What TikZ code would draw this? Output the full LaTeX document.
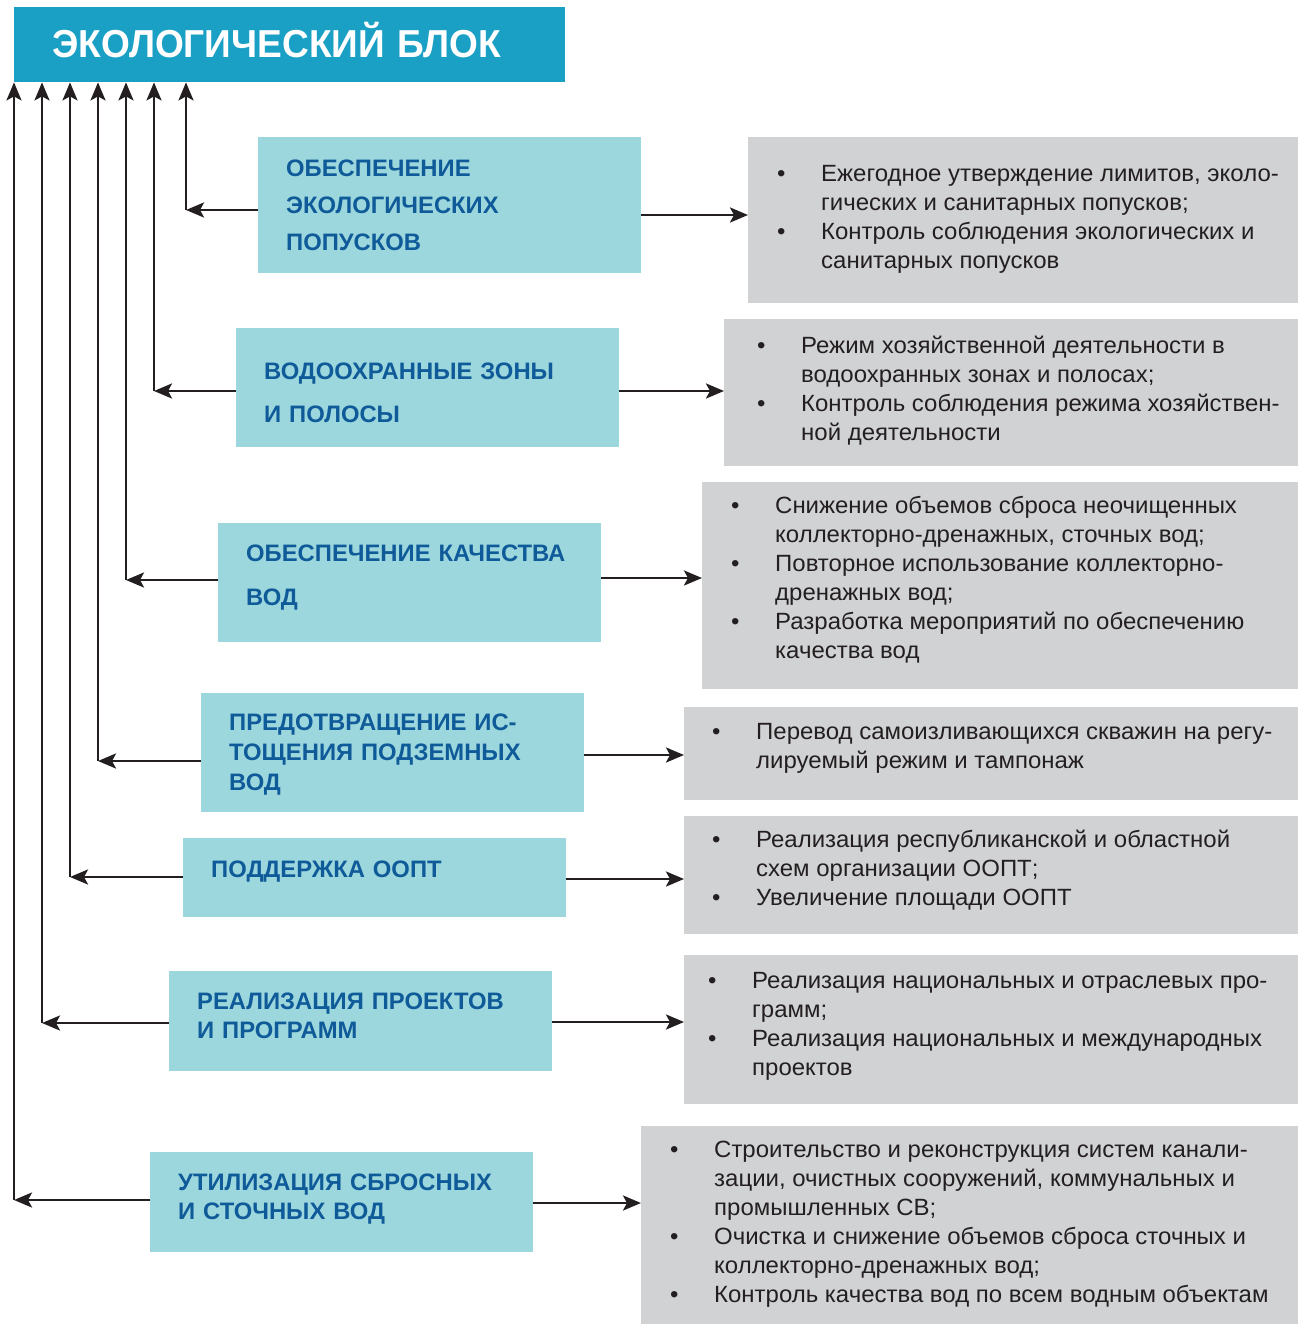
\documentclass[tikz,border=0pt]{standalone}
\usepackage{fontspec}
\setmainfont{Liberation Sans}
\newfontfamily\titlefont[FakeStretch=0.95]{Liberation Sans Bold}
\newfontfamily\bodyfont[FakeStretch=1.02]{Liberation Sans}
\usetikzlibrary{positioning,arrows.meta}
\definecolor{titleblue}{HTML}{1BA0C5}
\definecolor{boxblue}{HTML}{9CD7DD}
\definecolor{headblue}{HTML}{0F5A98}
\definecolor{boxgray}{HTML}{D1D2D4}
\definecolor{textgray}{HTML}{231F20}
% one bullet point with hanging indent
\newcommand{\bitem}[1]{\par\hangindent=44pt\hangafter=1\noindent\hbox to 44pt{\textbullet\hfil}\strut#1}
% width, height, top space, left space, items
\newcommand{\mlist}[5]{\begin{minipage}[c][#2pt][t]{#1pt}\raggedright\leftskip=#4pt\vspace*{#3pt}#5\end{minipage}}

\begin{document}
\begin{tikzpicture}[x=1pt,y=-1pt,
  head/.style={fill=titleblue,text=white,anchor=north west,
    font=\titlefont\fontsize{39}{39}\selectfont,
    inner xsep=38pt,inner ysep=0pt,minimum width=551pt,minimum height=75pt,
    text width=475pt,align=left,text depth=10pt},
  task/.style={fill=boxblue,text=headblue,anchor=north west,
    font=\fontsize{23.8}{37}\selectfont\bfseries,
    inner xsep=28pt,inner ysep=0pt,minimum width=383pt,
    text width=327pt,align=left},
  measure/.style={fill=boxgray,text=textgray,anchor=north west,inner sep=0pt,
    font=\bodyfont\fontsize{23.5}{29}\selectfont},
  arr/.style={draw=textgray,line width=2.7pt,
    -{Stealth[length=18pt,width=15pt,inset=4pt]}}]
\useasboundingbox (0,0) rectangle (1298,1324);

\node[head] (title) at (14,7) {ЭКОЛОГИЧЕСКИЙ БЛОК};

% directions
\node[task,minimum height=136pt] (p1) at (258,137) {ОБЕСПЕЧЕНИЕ\\ЭКОЛОГИЧЕСКИХ\\ПОПУСКОВ};
\node[task,minimum height=119pt,font=\fontsize{23.8}{43}\selectfont\bfseries] (p2) at (236,328) {\rule{0pt}{27pt}ВОДООХРАННЫЕ ЗОНЫ\\И ПОЛОСЫ};
\node[task,minimum height=119pt,font=\fontsize{23.8}{44}\selectfont\bfseries] (p3) at (218,523) {ОБЕСПЕЧЕНИЕ КАЧЕСТВА\\ВОД\rule[-14.6pt]{0pt}{0pt}};
\node[task,minimum height=119pt,font=\fontsize{23.8}{30}\selectfont\bfseries] (p4) at (201,693) {\rule{0pt}{21pt}ПРЕДОТВРАЩЕНИЕ ИС-\\ТОЩЕНИЯ ПОДЗЕМНЫХ\\ВОД};
\node[task,minimum height=79pt] (p5) at (183,838) {ПОДДЕРЖКА ООПТ\rule[-16.6pt]{0pt}{0pt}};
\node[task,minimum height=100pt,font=\fontsize{23.8}{29}\selectfont\bfseries] (p6) at (169,971) {РЕАЛИЗАЦИЯ ПРОЕКТОВ\\И ПРОГРАММ\rule[-12pt]{0pt}{0pt}};
\node[task,minimum height=100pt,font=\fontsize{23.8}{29}\selectfont\bfseries] (p7) at (150,1152) {УТИЛИЗАЦИЯ СБРОСНЫХ\\И СТОЧНЫХ ВОД\rule[-10.6pt]{0pt}{0pt}};

% measures
\node[measure] (m1) at (748,137) {\mlist{550}{166}{24}{29}{%
  \bitem{Ежегодное утверждение лимитов, эколо-\newline гических и санитарных попусков;}
  \bitem{Контроль соблюдения экологических и\newline санитарных попусков}}};
\node[measure] (m2) at (724,319) {\mlist{574}{147}{14}{33}{%
  \bitem{Режим хозяйственной деятельности в\newline водоохранных зонах и полосах;}
  \bitem{Контроль соблюдения режима хозяйствен-\newline ной деятельности}}};
\node[measure] (m3) at (702,482) {\mlist{596}{207}{11}{29}{%
  \bitem{Снижение объемов сброса неочищенных\newline коллекторно-дренажных, сточных вод;}
  \bitem{Повторное использование коллекторно-\newline дренажных вод;}
  \bitem{Разработка мероприятий по обеспечению\newline качества вод}}};
\node[measure] (m4) at (684,707) {\mlist{614}{93}{12}{28}{%
  \bitem{Перевод самоизливающихся скважин на регу-\newline лируемый режим и тампонаж}}};
\node[measure] (m5) at (684,816) {\mlist{614}{118}{11}{28}{%
  \bitem{Реализация республиканской и областной\newline схем организации ООПТ;}
  \bitem{Увеличение площади ООПТ}}};
\node[measure] (m6) at (684,955) {\mlist{614}{149}{13}{24}{%
  \bitem{Реализация национальных и отраслевых про-\newline грамм;}
  \bitem{Реализация национальных и международных\newline проектов}}};
\node[measure] (m7) at (641,1126) {\mlist{657}{198}{11}{29}{%
  \bitem{Строительство и реконструкция систем канали-\newline зации, очистных сооружений, коммунальных и\newline промышленных СВ;}
  \bitem{Очистка и снижение объемов сброса сточных и\newline коллекторно-дренажных вод;}
  \bitem{Контроль качества вод по всем водным объектам}}};

% corners of the feedback lines
\coordinate (c1) at (186,210);
\coordinate (c2) at (154,391);
\coordinate (c3) at (126,580);
\coordinate (c4) at (98,761);
\coordinate (c5) at (70,877);
\coordinate (c6) at (42,1023);
\coordinate (c7) at (14,1200);
% rows of the right arrows
\coordinate (r1) at (0,215);
\coordinate (r2) at (0,391);
\coordinate (r3) at (0,578);
\coordinate (r4) at (0,755);
\coordinate (r5) at (0,879);
\coordinate (r6) at (0,1022);
\coordinate (r7) at (0,1203);

\foreach \i in {1,...,7}{
  \draw[arr] (p\i.west |- c\i) -- (c\i);
  \draw[arr] (c\i) -- (c\i |- title.south);
  \draw[arr] (p\i.east |- r\i) -- (m\i.west |- r\i);
}
\end{tikzpicture}
\end{document}
